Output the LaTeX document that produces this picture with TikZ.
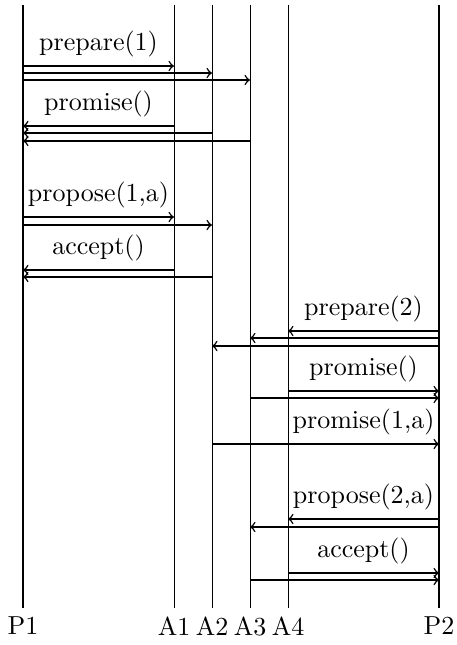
\documentclass[tikz,border=0pt]{standalone}
\begin{document}
\begin{tikzpicture}[x=0.4pt,y=-0.4pt,
  font=\fontsize{10.4}{12.5}\selectfont,
  proc/.style={thick},
  acc/.style={thin},
  msg/.style={semithick,->}]
\useasboundingbox (0,0) rectangle (457,645);
%% Names of the processes and acceptors.
\node[below] (P1) at (23,608) {P1};
\node[below] (A1) at (174,608) {A1};
\node[below] (A2) at (212,608) {A2};
\node[below] (A3) at (250,608) {A3};
\node[below] (A4) at (288,608) {A4};
\node[below] (P2) at (439,608) {P2};
\draw[proc] (P1 |- 0,5) -- (P1.north); % P1
\draw[acc] (A1 |- 0,5) -- (A1.north); % A1
\draw[acc] (A2 |- 0,5) -- (A2.north); % A2
\draw[acc] (A3 |- 0,5) -- (A3.north); % A3
\draw[acc] (A4 |- 0,5) -- (A4.north); % A4
\draw[proc] (P2 |- 0,5) -- (P2.north); % P2
%% Round 1 (P1)
\draw[msg] (P1 |- 0,66) -- (A1 |- 0,66); % prepare to A1
\draw[msg] (P1 |- 0,73) -- (A2 |- 0,73); % prepare to A2
\draw[msg] (P1 |- 0,80) -- (A3 |- 0,80); % prepare to A3
\node[above] (prepA) at (98.5,66) {prepare(1)};
\draw[msg] (A1 |- 0,126) -- (P1 |- 0,126); % promise from A1
\draw[msg] (A2 |- 0,133) -- (P1 |- 0,133); % promise from A2
\draw[msg] (A3 |- 0,141) -- (P1 |- 0,141); % promise from A3
\node[above] (promA) at (98.5,126) {promise()};
\draw[msg] (P1 |- 0,217) -- (A1 |- 0,217); % propose to A1
\draw[msg] (P1 |- 0,225) -- (A2 |- 0,225); % propose to A2
\node[above] (propA) at (98.5,217) {propose(1,a)};
\draw[msg] (A1 |- 0,270) -- (P1 |- 0,270); % accept from A1
\draw[msg] (A2 |- 0,277) -- (P1 |- 0,277); % accept from A2
\node[above] (accA) at (98.5,270) {accept()};
%% Round 2 (P2)
\draw[msg] (P2 |- 0,331) -- (A4 |- 0,331); % prepare to A4
\draw[msg] (P2 |- 0,338) -- (A3 |- 0,338); % prepare to A3
\draw[msg] (P2 |- 0,346) -- (A2 |- 0,346); % prepare to A2
\node[above] (prepB) at (363.5,331) {prepare(2)};
\draw[msg] (A4 |- 0,391) -- (P2 |- 0,391); % promise from A4
\draw[msg] (A3 |- 0,398) -- (P2 |- 0,398); % promise from A3
\node[above] (promB) at (363.5,391) {promise()};
\draw[msg] (A2 |- 0,444) -- (P2 |- 0,444); % promise from A2
\node[above] (promC) at (363.5,444) {promise(1,a)};
\draw[msg] (P2 |- 0,519) -- (A4 |- 0,519); % propose to A4
\draw[msg] (P2 |- 0,527) -- (A3 |- 0,527); % propose to A3
\node[above] (propB) at (363.5,519) {propose(2,a)};
\draw[msg] (A4 |- 0,573) -- (P2 |- 0,573); % accept from A4
\draw[msg] (A3 |- 0,580) -- (P2 |- 0,580); % accept from A3
\node[above] (accB) at (363.5,573) {accept()};
\end{tikzpicture}
\end{document}
